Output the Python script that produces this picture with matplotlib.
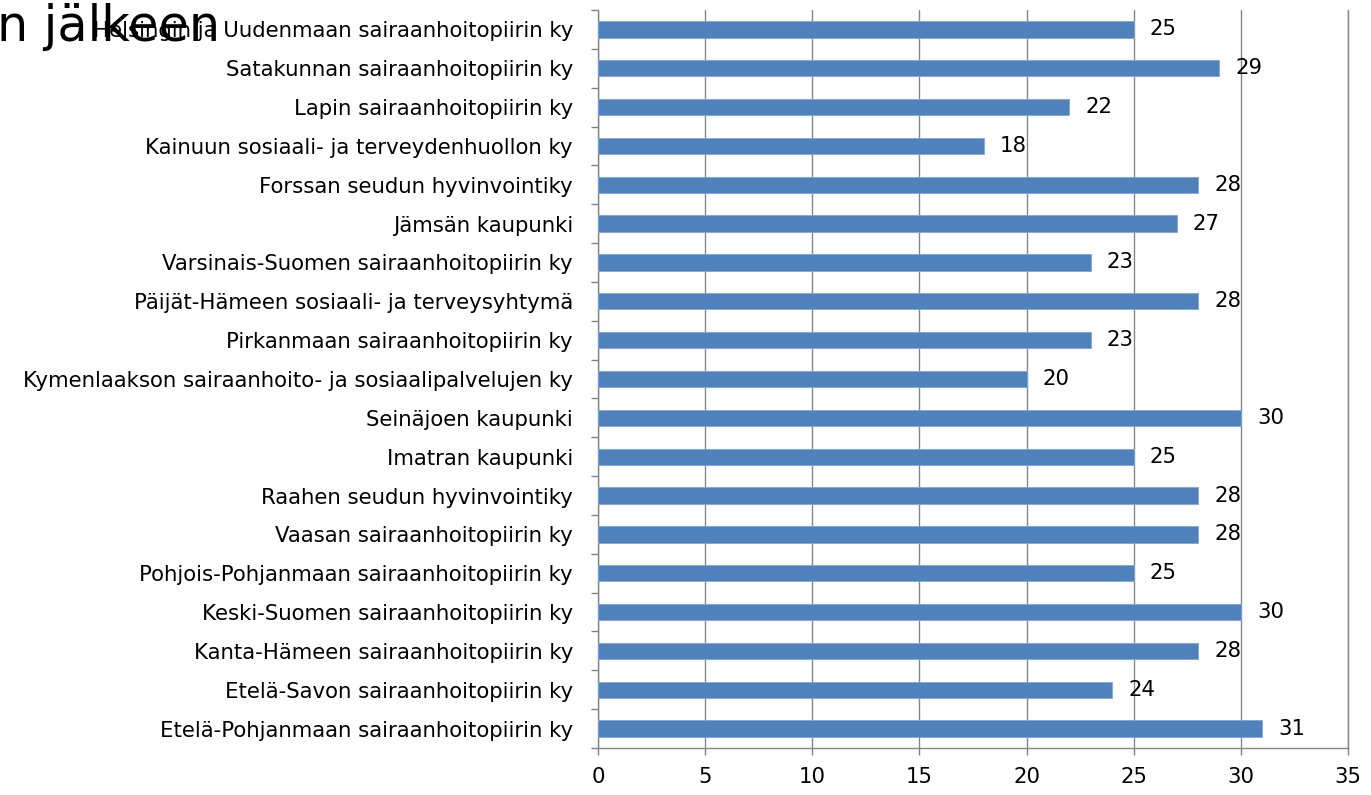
import matplotlib
matplotlib.use("Agg")
import matplotlib.pyplot as plt
from matplotlib.ticker import FixedLocator

categories = [
    "Helsingin ja Uudenmaan sairaanhoitopiirin ky",
    "Satakunnan sairaanhoitopiirin ky",
    "Lapin sairaanhoitopiirin ky",
    "Kainuun sosiaali- ja terveydenhuollon ky",
    "Forssan seudun hyvinvointiky",
    "Jämsän kaupunki",
    "Varsinais-Suomen sairaanhoitopiirin ky",
    "Päijät-Hämeen sosiaali- ja terveysyhtymä",
    "Pirkanmaan sairaanhoitopiirin ky",
    "Kymenlaakson sairaanhoito- ja sosiaalipalvelujen ky",
    "Seinäjoen kaupunki",
    "Imatran kaupunki",
    "Raahen seudun hyvinvointiky",
    "Vaasan sairaanhoitopiirin ky",
    "Pohjois-Pohjanmaan sairaanhoitopiirin ky",
    "Keski-Suomen sairaanhoitopiirin ky",
    "Kanta-Hämeen sairaanhoitopiirin ky",
    "Etelä-Savon sairaanhoitopiirin ky",
    "Etelä-Pohjanmaan sairaanhoitopiirin ky",
]
values = [25, 29, 22, 18, 28, 27, 23, 28, 23, 20, 30, 25, 28, 28, 25, 30, 28, 24, 31]
x_ticks = [0, 5, 10, 15, 20, 25, 30, 35]
title_text = "n jälkeen"

plt.rcParams['font.family'] = ['DejaVu Sans']

fig = plt.figure(figsize=(13.71, 7.95), dpi=100)
ax = fig.add_axes([0.4362, 0.0591, 0.9832 - 0.4362, 0.9874 - 0.0591])

FS = 15.3
n = len(categories)
ypos = list(range(n))[::-1]
ax.barh(ypos, values, height=0.42, color="#4F81BD", edgecolor="#7EA6D8", linewidth=0.6, zorder=3)
for y, v in zip(ypos, values):
    ax.text(v + 0.75, y, str(v), va="center", ha="left", fontsize=FS, color="black", zorder=4)

ax.set_xlim(0, 35)
ax.set_ylim(-0.5, n - 0.5)
ax.set_xticks(x_ticks)
ax.set_xticklabels([str(t) for t in x_ticks], fontsize=FS)
ax.set_yticks(ypos)
ax.set_yticklabels(categories, fontsize=FS)
ax.yaxis.set_minor_locator(FixedLocator([i - 0.5 for i in range(n + 1)]))
ax.tick_params(axis="y", which="major", length=0, pad=18)
ax.tick_params(axis="y", which="minor", length=5, color="#808080", width=1)
ax.tick_params(axis="x", which="major", length=5, color="#808080", width=1, pad=9)
ax.xaxis.grid(True, color="#868686", linewidth=1, zorder=0)
ax.set_axisbelow(True)
ax.spines["top"].set_visible(False)
for s in ["left", "bottom", "right"]:
    ax.spines[s].set_color("#868686")
    ax.spines[s].set_linewidth(1)

fig.text(-0.002, 0.948, title_text, fontsize=35.5, family=["DejaVu Sans"], va="baseline", ha="left")

fig.savefig("out.png", dpi=100)
